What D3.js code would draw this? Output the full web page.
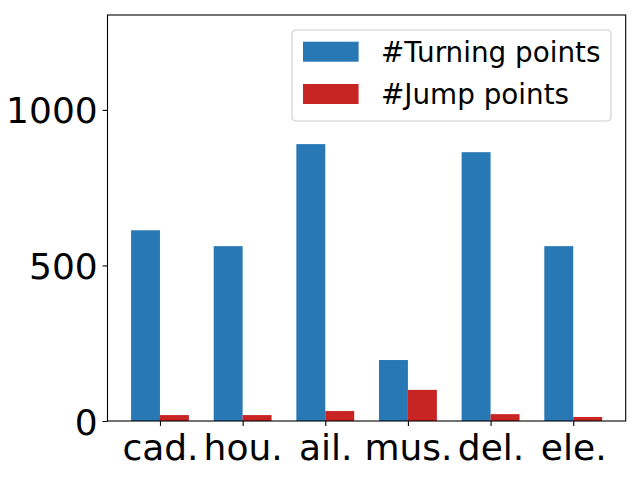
<!DOCTYPE html>
<html>
<head>
<meta charset="utf-8">
<script src="https://cdn.jsdelivr.net/npm/d3@7"></script>
<style>
  body { margin: 0; background: #fff; }
  text { font-family: "DejaVu Sans", sans-serif; fill: #000; }
</style>
</head>
<body>
<svg id="chart" width="640" height="480"></svg>
<script>
// Data
var categories = ["cad.", "hou.", "ail.", "mus.", "del.", "ele."];
var turningPoints = [613, 562, 890, 196, 864, 562];
var jumpPoints = [19, 19, 32, 100, 22, 13];
var yTicks = [0, 500, 1000];
var seriesNames = ["#Turning points", "#Jump points"];

// Colors
var blue = "#2878b5";
var red = "#c82423";

var svg = d3.select("#chart");
var margin = { left: 107.5, right: 14.3, top: 15, bottom: 59 };
var w = 640 - margin.left - margin.right;
var h = 480 - margin.top - margin.bottom;
var barW = 0.35;

// Scales
var xScale = d3.scaleLinear()
               .domain([-0.635, categories.length - 1 + 0.635])
               .range([0, w]);
var yScale = d3.scaleLinear()
               .domain([0, 1305])
               .range([h, 0]);

var g = svg.append("g")
           .attr("transform", "translate(" + margin.left + "," + margin.top + ")");

// Bars
g.selectAll(".turnBar")
 .data(turningPoints)
 .enter()
 .append("rect")
 .attr("class", "turnBar")
 .attr("x", function(d, i) { return xScale(i - barW); })
 .attr("width", xScale(barW) - xScale(0))
 .attr("y", function(d) { return yScale(d); })
 .attr("height", function(d) { return yScale(0) - yScale(d); })
 .style("fill", blue);
g.selectAll(".jumpBar")
 .data(jumpPoints)
 .enter()
 .append("rect")
 .attr("class", "jumpBar")
 .attr("x", function(d, i) { return xScale(i); })
 .attr("width", xScale(barW) - xScale(0))
 .attr("y", function(d) { return yScale(d); })
 .attr("height", function(d) { return yScale(0) - yScale(d); })
 .style("fill", red);

// Axes
var xAxis = d3.axisBottom(xScale)
              .tickValues(d3.range(categories.length))
              .tickFormat(function(d) { return categories[d]; })
              .tickSize(4.9)
              .tickPadding(4.9);
var yAxis = d3.axisLeft(yScale)
              .tickValues(yTicks)
              .tickFormat(d3.format("d"))
              .tickSize(4.9)
              .tickPadding(4.9);

var gx = g.append("g")
          .attr("transform", "translate(0," + h + ")")
          .call(xAxis);
var gy = g.append("g").call(yAxis);

[gx, gy].forEach(function(a) {
  a.select(".domain").remove();
  a.selectAll(".tick line").style("stroke", "#000").style("stroke-width", 1.1);
  a.selectAll(".tick text").style("font-size", "36px").attr("fill", "#000");
});
gx.selectAll(".tick text").attr("dy", null).attr("y", 39);
gy.selectAll(".tick text").attr("dy", null).attr("y", 13);

// Frame
g.append("rect")
 .attr("width", w)
 .attr("height", h)
 .style("fill", "none")
 .style("stroke", "#000")
 .style("stroke-width", 1.1);

// Legend
var legend = svg.append("g").attr("transform", "translate(292,30)");
legend.append("rect")
      .attr("width", 319)
      .attr("height", 91)
      .attr("rx", 4)
      .style("fill", "#fff")
      .style("fill-opacity", 0.8)
      .style("stroke", "#cccccc")
      .style("stroke-width", 1.1);
var legendItems = legend.selectAll(".legendItem")
                        .data(seriesNames)
                        .enter()
                        .append("g")
                        .attr("class", "legendItem")
                        .attr("transform", function(d, i) { return "translate(11," + (21.7 + i * 42.3) + ")"; });
legendItems.append("rect")
           .attr("x", 0)
           .attr("y", -10)
           .attr("width", 55.6)
           .attr("height", 20)
           .style("fill", function(d, i) { return i === 0 ? blue : red; });
legendItems.append("text")
           .text(function(d) { return d; })
           .attr("x", 78)
           .attr("y", 10)
           .style("font-size", "27.8px");
</script>
</body>
</html>
